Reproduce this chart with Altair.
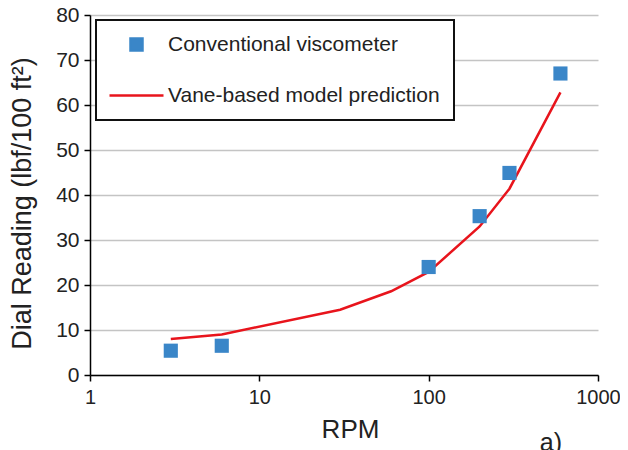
import altair as alt
import pandas as pd

series = ["Conventional viscometer", "Vane-based model prediction"]
rpm_visc = [3, 6, 100, 200, 300, 600]
dial_visc = [5.4, 6.5, 24.0, 35.3, 44.9, 67.0]
rpm_model = [3, 6, 30, 60, 100, 200, 300, 600]
dial_model = [8.0, 9.0, 14.5, 18.6, 22.9, 33.0, 41.4, 62.8]
x_ticks = [1, 10, 100, 1000]
y_ticks = [0, 10, 20, 30, 40, 50, 60, 70, 80]

df_v = pd.DataFrame({"rpm": rpm_visc, "dial": dial_visc, "series": series[0]})
df_m = pd.DataFrame({"rpm": rpm_model, "dial": dial_model, "series": series[1]})

FONT = "Liberation Sans"
TXT = "#222222"

leg = alt.Legend(
    title=None, orient="none", legendX=6, legendY=5,
    strokeColor="#111111", fillColor="white",
    padding=14, rowPadding=28, labelFontSize=21, labelFont=FONT,
    labelColor=TXT, labelOffset=21, symbolOffset=16, symbolSize=144, symbolStrokeWidth=2.5,
    labelLimit=400,
)

color = alt.Color("series:N", scale=alt.Scale(domain=series, range=["#3a86c8", "#e8141c"]), legend=leg)
shape = alt.Shape("series:N", scale=alt.Scale(domain=series, range=["square", "M-4.5,0H4.5"]), legend=leg)

x = alt.X("rpm:Q", scale=alt.Scale(type="log", domain=[1, 1000]),
          axis=alt.Axis(values=x_ticks, format="d", title="RPM", grid=False, labelFlush=False,
                        domainColor="black", domainWidth=1.5, tickColor="black", tickWidth=1.5, tickSize=6,
                        labelFontSize=20, labelFont=FONT, labelColor=TXT, labelPadding=6,
                        titleFontSize=26, titleFont=FONT, titleFontWeight="normal", titleColor=TXT,
                        titlePadding=9, titleX=260))
y = alt.Y("dial:Q", scale=alt.Scale(domain=[0, 80]),
          axis=alt.Axis(values=y_ticks, title="Dial Reading (lbf/100 ft²)", grid=True,
                        gridColor="#c4c4c4", gridWidth=1.5,
                        domainColor="black", domainWidth=1.5, tickColor="black", tickWidth=1.5, tickSize=6,
                        labelFontSize=21, labelFont=FONT, labelColor=TXT, labelPadding=5,
                        titleFontSize=27, titleFont=FONT, titleFontWeight="normal", titleColor=TXT,
                        titlePadding=19, titleY=188))

line = alt.Chart(df_m).mark_line(strokeWidth=2.5).encode(x=x, y=y, color=color)
pts = alt.Chart(df_v).mark_point(filled=True, opacity=1, size=200).encode(x=x, y=y, color=color, shape=shape)

chart = alt.layer(line, pts).properties(
    width=508, height=360,
    autosize="none",
    padding={"left": 82, "top": 7, "right": 22, "bottom": 75},
    title=alt.Title("a)", orient="bottom", anchor="end", frame="group", fontSize=25, font=FONT,
                    fontWeight="normal", color=TXT, dx=-36, offset=-11),
).configure_view(stroke=None).configure_legend(strokeWidth=2)

chart.save("out.html", embed_options={"renderer": "svg", "actions": False})
